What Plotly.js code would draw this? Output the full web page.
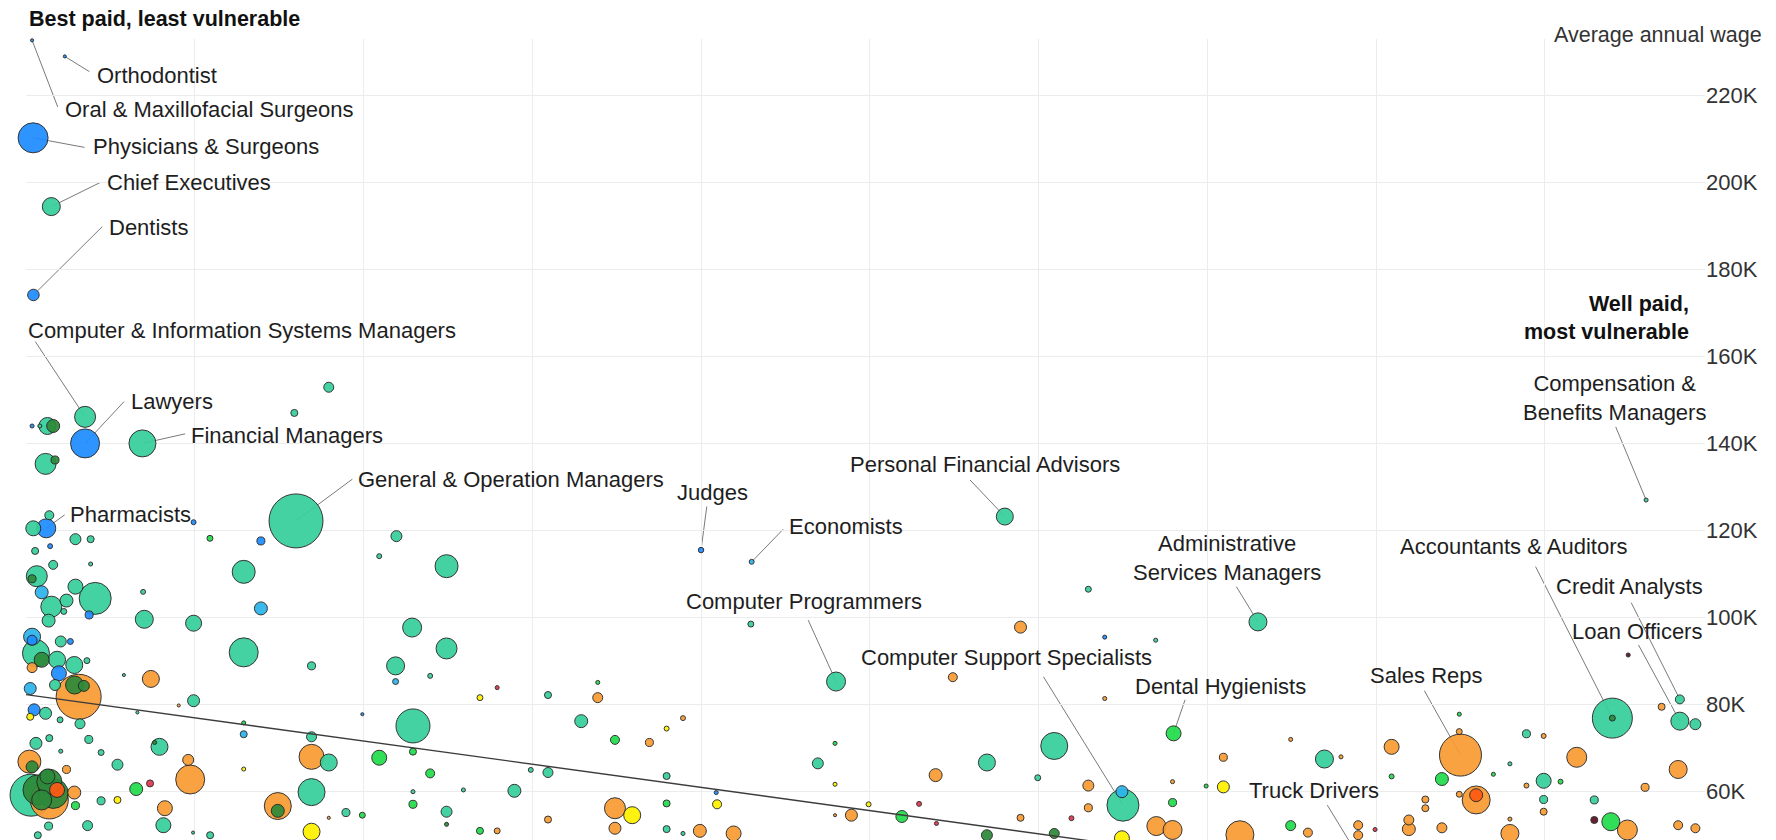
<!DOCTYPE html>
<html><head><meta charset="utf-8">
<script src="https://cdn.plot.ly/plotly-3.0.1.min.js"></script>
<style>html,body{margin:0;padding:0;background:#fff;} #chart{width:1776px;height:840px;}</style>
</head><body><div id="chart"></div>
<script>
// ---------- DATA ----------
// Labeled occupations
const labeledNames = ['Oral & Maxillofacial Surgeons','Orthodontist','Physicians & Surgeons','Chief Executives','Dentists',
  'Computer & Information Systems Managers','Lawyers','Financial Managers','General & Operation Managers','Pharmacists',
  'Judges','Economists','Personal Financial Advisors','Computer Programmers','Administrative Services Managers',
  'Computer Support Specialists','Dental Hygienists','Accountants & Auditors','Credit Analysts','Loan Officers',
  'Sales Reps','Truck Drivers','Compensation & Benefits Managers'];
const labeledProb = [.0036,.023,.0042,.015,.0044,.035,.035,.069,.16,.012,.40,.43,.58,.48,.73,.65,.68,.94,.98,.98,.85,.79,.96];
const labeledWage = [232.6,228.9,210.2,194.4,174.1,146.1,140.0,140.0,122.2,120.5,115.5,112.8,123.2,85.3,99.0,56.9,73.4,76.9,81.2,76.2,68.4,44.9,127.0];
const labeledEmp  = [7,7,657,237,97,322,614,532,2129,264,22,18,211,264,237,748,164,1168,59,237,1288,1168,12];
const labeledEdu  = ['B','B','B','T','B','T','B','T','T','B','B','L','T','T','T','T','G','T','T','T','O','O','T'];

// Other occupations (automation probability, average wage in $K, employment in thousands, education group)
const otherProb = [
  .1794,.159,.0127,.0161,.0036,.0082,.0116,.0172,.0043,.0138,.0993,.0293,.0383,.0054,.0143,.109,.1392,.2195,.2093,
  .0161,.0383,.0064,.0036,.0293,.0410,.0093,.015,.0240,.0224,.0134,.0374,.0694,.0701,.0993,.129,.1392,.2492,.2288,.2492,.129,.1692,.2190,.2190,.2395,
  .0036,.0036,.0059,.0093,.0184,.0206,.0263,.0286,.0361,.0036,.0195,.0288,.0312,.0343,.0172,.0025,.074,.058,.0993,.0905,.066,
  .0048,.0116,.0025,.0202,.032,.0372,.0059,.0138,.0206,.0445,.0762,.0791,.0542,.129,.129,.1692,.1993,.2293,.2293,.1692,.1794,.2093,.0961,.0973,.129,.0240,
  .0020,.0036,.0030,.0071,.0138,.0161,.0093,.0127,.0184,.0138,.0286,.0293,.0445,.0542,.0653,.0735,.0823,.0814,.0365,.0070,.0134,
  .1492,.1492,.1692,.1692,.1896,.1993,.1794,.2293,.2293,.2395,.2492,.2492,.2592,.2690,.2792,.2894,.2991,.3093,.3093,.3093,.329,.3388,.3388,.269,.2792,.1091,.099,
  .4295,.5893,.5492,.6392,.6694,.6392,.6093,.5694,.539,.5995,.6295,.6494,.6295,.6195,.5893,.6794,.6794,.6698,.6794,.6494,
  .6093,.5694,.519,.5292,.5395,.4993,.4891,.4794,.4794,.4692,.4794,.409,.4095,.3993,.4193,.3796,.3796,.3796,.349,.3592,
  .349,.349,.3694,.3796,.3893,.3893,.6295,
  .9494,.9692,.94,.9892,.8493,.8493,.8092,.7694,.7792,.7494,.7095,.7095,.6993,.839,.8092,.8891,.8993,.9189,.8793,.8695,
  .979,.8993,.8891,.9093,.8593,.8593,.8493,.8292,.8292,.9594,.9293,.8993,.8993,.9391,.9293,.9489,.979,.9892,.8194,.8194,
  .839,.8793,.8793,.7494,.7596,.7193,.7894,.7894,.7994
];
const otherWage = [
  152.9,147.0,144.0,144.0,144.0,144.0,135.3,136.2,120.5,123.5,121.9,118.0,118.0,115.3,116.4,118.2,117.6,118.7,114.1,
  112.1,112.3,109.5,108.9,107.1,104.4,105.8,102.5,103.9,101.4,99.3,100.6,105.9,99.6,98.7,110.5,102.1,111.8,97.7,92.9,92.0,88.9,88.9,85.3,86.6,
  95.6,94.8,91.8,90.3,90.3,94.5,94.5,89.1,90.1,88.5,87.2,84.5,81.8,84.3,84.5,83.7,85.9,86.8,80.9,79.8,78.2,
  78.8,78.0,77.2,76.5,75.6,72.0,71.1,72.3,69.3,69.0,71.3,70.3,66.2,75.8,73.2,72.6,77.8,75.1,69.2,68.0,66.7,67.8,67.3,62.8,65.2,65.1,
  66.9,65.7,59.2,60.4,62.3,59.6,58.1,63.5,60.4,58.1,59.8,56.8,57.9,58.1,60.6,61.9,56.2,52.3,52.2,50.0,52.1,
  56.7,55.6,59.9,50.8,55.2,54.6,54.0,57.1,60.0,64.2,55.4,52.5,60.4,81.6,83.9,60.2,65.0,64.4,82.2,53.6,76.2,81.6,85.1,51.0,51.0,50.0,50.6,
  98.5,97.8,86.3,95.5,94.8,81.4,70.5,66.7,63.8,63.2,61.4,60.0,56.3,53.9,54.0,62.3,57.5,52.1,51.2,49.3,
  50.4,50.0,54.3,57.2,52.7,57.1,54.6,54.6,61.7,66.5,71.1,59.8,57.1,51.0,50.4,57.3,51.4,63.6,56.2,54.6,
  51.6,71.9,71.3,74.5,76.9,50.4,106.5,
  91.4,79.5,76.9,75.5,73.8,77.8,70.3,67.5,68.0,72.0,67.9,61.1,61.3,62.9,63.5,73.3,72.8,67.9,66.4,64.0,
  65.1,62.5,61.4,62.3,58.1,59.2,59.4,58.2,56.2,61.0,58.1,58.2,55.4,53.1,53.5,51.2,52.3,51.6,53.5,51.4,
  51.7,50.4,53.7,52.2,50.6,50.1,52.3,50.0,51.3
];
const otherEmp = [
  73,36,211,123,12,12,322,47,164,59,18,88,36,36,18,26,47,88,18,
  59,12,322,47,164,748,123,322,123,26,123,47,18,237,187,386,123,386,264,322,614,47,237,26,18,
  211,73,532,164,211,88,26,211,26,73,164,237,1480,88,88,105,211,7,105,7,7,
  105,105,36,26,73,47,105,36,12,26,12,211,88,12,36,73,7,844,36,456,211,164,88,614,12,47,
  386,105,1288,657,456,657,292,164,164,1054,123,47,47,36,123,36,164,164,73,36,47,
  532,123,532,211,47,26,7,47,12,59,88,12,12,26,12,123,18,73,36,36,123,73,12,36,26,36,7,
  26,105,59,12,12,12,532,211,123,26,88,105,47,18,36,12,47,264,264,164,
  73,88,105,18,12,18,105,7,12,88,12,12,59,123,164,36,36,36,322,211,
  105,59,47,18,18,12,26,
  12,36,26,88,26,12,164,237,12,12,47,105,12,123,18,47,18,292,12,12,
  237,164,18,18,572,123,26,36,36,47,47,47,36,237,36,292,59,59,73,123,
  73,237,12,73,59,572,59,59,12
];
const otherEdu = [
  'T','T','T','D','B','T','T','D','T','T','B','T','T','T','B','G','B','T','T',
  'T','T','T','D','T','T','L','T','T','T','T','B','T','T','T','T','L','T','T','T','T','T','T','L','T',
  'L','B','T','D','T','T','B','T','T','O','B','D','O','D','T','L','O','T','T','O','T',
  'B','T','Y','T','T','T','T','T','T','T','D','T','T','G','L','T','B','T','G','O','T','G','O','O','Y','O',
  'O','D','T','D','D','D','D','D','X','O','O','G','T','Y','G','R','O','T','T','T','T',
  'O','D','T','Y','T','G','O','G','T','G','T','D','T','Y','R','T','T','T','T','O','T','O','G','G','O','T','T',
  'T','O','O','B','T','O','T','T','O','T','O','L','O','R','O','O','G','O','O','Y',
  'D','D','G','R','R','Y','O','O','Y','T','G','B','Y','O','O','G','T','T','O','Y',
  'O','G','O','Y','O','T','T',
  'M','O','D','T','O','G','O','T','O','O','O','Y','G','G','G','T','O','O','T','G',
  'O','T','O','G','O','X','O','O','O','O','T','T','O','G','M','O','O','O','O','O',
  'O','O','O','G','O','O','O','O','R'
];

// Linear trend fitted across all occupations (wage in $K vs automation probability)
const trendIntercept = 82.3;
const trendSlope = -53.3;

// Axis ticks
const wageTicks = [60,80,100,120,140,160,180,200,220];
const probGrid = [0.1,0.2,0.3,0.4,0.5,0.6,0.7,0.8,0.9];

// ---------- STYLE / LAYOUT CONFIG ----------
const groupColor = {T:'#38cf9b', B:'#1f8cff', L:'#2db4ec', O:'#f99b34', Y:'#fff200',
  G:'#22dc4c', D:'#2d8a3a', R:'#e2344e', X:'#ff5a14', M:'#5c1020'};

const labelLayout = [
  {name:'Oral & Maxillofacial Surgeons', tx:.0217, ty:216.8, lx:.0188, ly:217.3},
  {name:'Orthodontist', tx:.0407, ty:224.6, lx:.0376, ly:225.4},
  {name:'Physicians & Surgeons', tx:.0383, ty:208.1, lx:.0347, ly:208.0},
  {name:'Chief Executives', tx:.0467, ty:199.9, lx:.0438, ly:199.9},
  {name:'Dentists', tx:.0479, ty:189.6, lx:.0452, ly:189.8},
  {name:'Computer & Information Systems Managers', tx:.0002, ty:166.0, lx:.0055, ly:163.4},
  {name:'Lawyers', tx:.0608, ty:149.6, lx:.0581, ly:149.6},
  {name:'Financial Managers', tx:.0966, ty:141.9, lx:.0943, ly:142.2},
  {name:'General & Operation Managers', tx:.1958, ty:131.6, lx:.1934, ly:131.8},
  {name:'Pharmacists', tx:.0247, ty:123.6, lx:.0229, ly:123.6},
  {name:'Judges', tx:.3848, ty:128.7, lx:.4034, ly:125.5},
  {name:'Economists', tx:.451, ty:120.9, lx:.4487, ly:120.3},
  {name:'Personal Financial Advisors', tx:.4873, ty:135.2, lx:.5594, ly:131.6},
  {name:'Computer Programmers', tx:.3898, ty:103.6, lx:.4635, ly:99.4},
  {name:'Administrative Services Managers', text:'Administrative<br>Services Managers', tx:.7115, ty:113.6, anchor:'center', lx:.7172, ly:107.1},
  {name:'Computer Support Specialists', tx:.4937, ty:90.9, lx:.6029, ly:86.4},
  {name:'Dental Hygienists', tx:.6562, ty:84.2, lx:.6868, ly:81.1},
  {name:'Accountants & Auditors', tx:.8129, ty:116.3, lx:.8945, ly:111.7},
  {name:'Credit Analysts', tx:.9054, ty:107.1, lx:.9512, ly:103.4},
  {name:'Loan Officers', tx:.9148, ty:96.9, lx:.9555, ly:93.7},
  {name:'Sales Reps', tx:.7951, ty:86.6, lx:.8286, ly:83.2},
  {name:'Truck Drivers', tx:.7233, ty:60.2, lx:.7711, ly:56.9},
  {name:'Compensation & Benefits Managers', text:'Compensation &<br>Benefits Managers', tx:.9413, ty:150.5, anchor:'center', lx:.942, ly:143.8}
];

// ---------- BUILD ----------
const prob = labeledProb.concat(otherProb);
const wage = labeledWage.concat(otherWage);
const emp = labeledEmp.concat(otherEmp);
const edu = labeledEdu.concat(otherEdu);
const order = prob.map((_, i) => i).sort((a, b) => emp[b] - emp[a]);

const bubbles = {
  type: 'scatter', mode: 'markers',
  x: order.map(i => prob[i]),
  y: order.map(i => wage[i]),
  marker: {
    size: order.map(i => emp[i]),
    sizemode: 'area', sizeref: 1.46, sizemin: 1,
    color: order.map(i => groupColor[edu[i]]),
    opacity: 0.93,
    line: {color: '#262626', width: 1}
  },
  cliponaxis: false, hoverinfo: 'skip', showlegend: false
};

const trend = {
  type: 'scatter', mode: 'lines',
  x: [0, 1],
  y: [trendIntercept, trendIntercept + trendSlope],
  line: {color: '#3c3c3c', width: 1.4},
  hoverinfo: 'skip', showlegend: false
};

const FONT = '"Liberation Sans", Arial, Helvetica, sans-serif';
const shapes = [];
const annotations = [];
labelLayout.forEach(l => {
  const k = labeledNames.indexOf(l.name);
  shapes.push({type:'line', xref:'x', yref:'y', layer:'below',
    x0: labeledProb[k], y0: labeledWage[k], x1: l.lx, y1: l.ly,
    line:{color:'#7a7a7a', width:1}});
  annotations.push({xref:'x', yref:'y', x:l.tx, y:l.ty, text: l.text || l.name,
    showarrow:false, xanchor: l.anchor || 'left', yanchor:'middle', align: l.anchor || 'left',
    font:{family:FONT, size:22, color:'#1e1e1e'}});
});
annotations.push({xref:'paper', yref:'paper', x:0.0005, y:1.025, xanchor:'left', yanchor:'middle',
  text:'<b>Best paid, least vulnerable</b>', showarrow:false, font:{family:FONT, size:21.5, color:'#111'}});
annotations.push({xref:'x', yref:'y', x:.9867, y:168.7, xanchor:'right', yanchor:'middle', align:'right',
  text:'<b>Well paid,<br>most vulnerable</b>', showarrow:false, font:{family:FONT, size:21.5, color:'#111'}});
annotations.push({xref:'paper', yref:'paper', x:1.035, y:1.005, xanchor:'right', yanchor:'middle',
  text:'Average annual wage', showarrow:false, font:{family:FONT, size:21.5, color:'#333'}});

const layout = {
  width: 1776, height: 840,
  margin: {l:26, r:71, t:39, b:0, pad:0},
  paper_bgcolor:'#fff', plot_bgcolor:'#fff',
  font: {family: FONT, color:'#333'},
  showlegend: false, hovermode: false,
  xaxis: {range:[0, 0.9949], tickmode:'array', tickvals: probGrid, showticklabels:false, ticks:'',
    showgrid:true, gridcolor:'#ececec', gridwidth:1, zeroline:false, showline:false},
  yaxis: {range:[48.9, 232.9], side:'right', tickmode:'array', tickvals: wageTicks,
    ticktext: wageTicks.map(v => v + 'K'), ticks:'',
    showgrid:true, gridcolor:'#ececec', gridwidth:1, zeroline:false, showline:false,
    tickfont:{family:FONT, size:22, color:'#333'}},
  shapes: shapes,
  annotations: annotations
};

Plotly.newPlot('chart', [bubbles, trend], layout, {staticPlot:true, displayModeBar:false});
</script></body></html>
